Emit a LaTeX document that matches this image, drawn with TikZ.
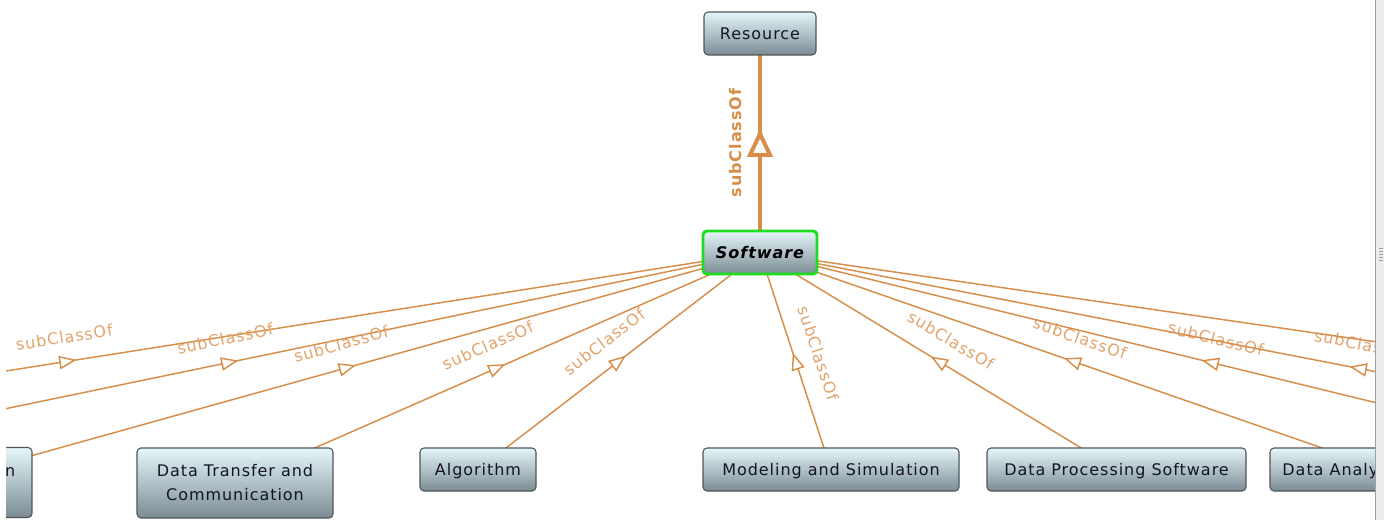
\documentclass[tikz,border=0pt]{standalone}
\usepackage{fontspec}
\setmainfont{DejaVu Sans}[LetterSpace=6]
\usetikzlibrary{arrows.meta,decorations.markings,backgrounds}

\definecolor{edgeorange}{RGB}{214,142,74}
\definecolor{labelorange}{RGB}{226,164,108}
\definecolor{boxtop}{RGB}{230,247,250}
\definecolor{boxbottom}{RGB}{122,139,148}
\definecolor{boxborder}{RGB}{80,86,90}
\definecolor{boxtext}{RGB}{20,20,40}
\definecolor{selgreen}{RGB}{30,220,30}
\definecolor{stripgray}{RGB}{236,236,236}
\definecolor{stripline}{RGB}{160,160,160}

\newcommand{\diagfont}{\fontsize{12pt}{18pt}\selectfont}

\tikzset{
  classbox/.style={draw=boxborder, line width=0.8pt, rounded corners=3pt,
    top color=boxtop, bottom color=boxbottom, text=boxtext,
    font=\diagfont, inner sep=0pt, align=center},
  oneline/.style={classbox, minimum height=43*0.75pt, text height=8.7pt, text depth=0pt},
  twoline/.style={classbox, minimum height=70*0.75pt},
  focusbox/.style={oneline, draw=selgreen, line width=2.2pt,
    font=\diagfont\bfseries\itshape, text=black},
  subedge/.style={draw=edgeorange, line width=1.1pt,
    postaction={decorate, decoration={markings,
      mark=at position 0.5 with {\arrow[xshift=6.5pt]{Triangle[length=13pt,width=10pt,fill=white]}}}}},
  topedge/.style={draw=edgeorange, line width=3pt,
    postaction={decorate, decoration={markings,
      mark=at position 0.5 with {\arrow[xshift=10.5pt]{Triangle[length=21pt,width=19pt,fill=white]}}}}},
  edgelabel/.style={midway, sloped, above=13pt, inner sep=0pt, text=labelorange,
    font=\diagfont},
  toplabel/.style={midway, sloped, above=12pt, inner sep=0pt, text=edgeorange,
    font=\diagfont\bfseries},
}

\begin{document}
\begin{tikzpicture}[x=0.75pt, y=-0.75pt]
\useasboundingbox (0,0) rectangle (1384,520);

\begin{scope}
  \clip (6,0) rectangle (1375,520);

  % class boxes
  \node[oneline, minimum width=112*0.75pt] (res) at (760,33.5) {Resource};
  \node[focusbox, minimum width=114*0.75pt] (sw) at (760,252.5) {Software};
  \node[twoline, minimum width=193*0.75pt] (vis) at (-64.5,482.5) {Data Visualization\\Software};
  \node[twoline, minimum width=196*0.75pt] (dtc) at (235,483) {Data Transfer and\\Communication};
  \node[oneline, minimum width=116*0.75pt] (alg) at (478,469.5) {Algorithm};
  \node[oneline, minimum width=256*0.75pt] (mod) at (831,469.5) {Modeling and Simulation};
  \node[oneline, minimum width=259*0.75pt] (dps) at (1116.5,469.5) {Data Processing Software};
  \node[oneline, minimum width=228*0.75pt] (das) at (1384,469.5) {Data Analysis Software};

  % subclasses lying outside the visible area
  \coordinate (l1) at (-624,470);
  \coordinate (l2) at (-300,472);
  \coordinate (rc) at (1660,472);
  \coordinate (rb) at (1956,484);
  \coordinate (ra) at (2260,470);

  % subClassOf links, kept behind the boxes
  \begin{scope}[on background layer]
    \fill[white] (0,0) rectangle (1384,520);
    \clip (6,0) rectangle (1375,520);
    \draw[topedge] (sw.center) -- (res.center) node[toplabel] {subClassOf};
    \draw[subedge] (l1) -- (sw.center) node[edgelabel] {subClassOf};
    \draw[subedge] (l2) -- (sw.center) node[edgelabel] {subClassOf};
    \draw[subedge] (vis.center) -- (sw.center) node[edgelabel] {subClassOf};
    \draw[subedge] (dtc.center) -- (sw.center) node[edgelabel] {subClassOf};
    \draw[subedge] (alg.center) -- (sw.center) node[edgelabel] {subClassOf};
    \draw[subedge] (mod.center) -- (sw.center) node[edgelabel] {subClassOf};
    \draw[subedge] (dps.center) -- (sw.center) node[edgelabel] {subClassOf};
    \draw[subedge] (das.center) -- (sw.center) node[edgelabel] {subClassOf};
    \draw[subedge] (rc) -- (sw.center) node[edgelabel] {subClassOf};
    \draw[subedge] (rb) -- (sw.center) node[edgelabel] {subClassOf};
    \draw[subedge] (ra) -- (sw.center) node[edgelabel] {subClassOf};
  \end{scope}
\end{scope}

% scroll bar strip on the right
\fill[stripgray] (1375,0) rectangle (1384,520);
\draw[stripline, line width=0.8pt] (1375.5,0) -- (1375.5,520);
\foreach \gy in {248,251,254,257,260}
  \draw[stripline, line width=0.6pt] (1379,\gy) -- (1383,\gy);
\end{tikzpicture}
\end{document}
